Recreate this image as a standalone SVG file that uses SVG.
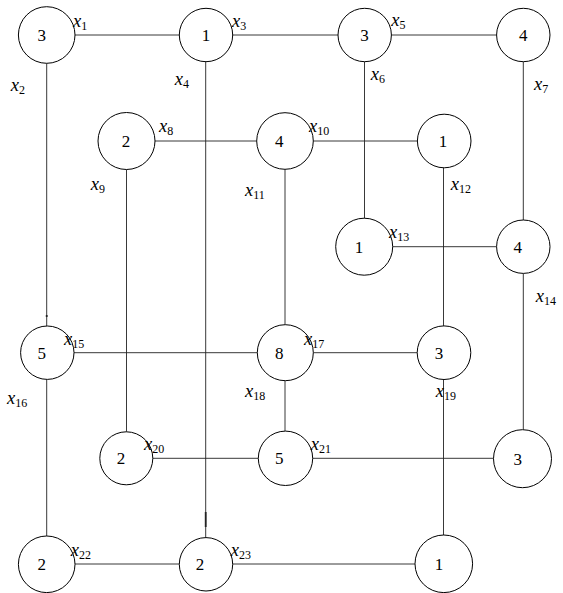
<svg xmlns="http://www.w3.org/2000/svg" width="563" height="593" viewBox="0 0 563 593">
<style>
.n circle{fill:#fff;stroke:#000;stroke-width:1}
.n text{font-family:'Liberation Serif','DejaVu Serif','Times New Roman',serif;font-size:17px;text-anchor:middle;fill:#000}
.c line{stroke:#222;stroke-width:0.9}
.l{font-family:'Liberation Serif','DejaVu Serif','Times New Roman',serif;font-size:18.5px;font-style:italic;fill:#000}
.l tspan{font-style:normal;font-size:12px}
</style>
<rect width="563" height="593" fill="#fff"/>
<g id="connectors" class="c">
<line x1="75" y1="35" x2="179.3" y2="35"/>
<line x1="232.7" y1="35" x2="338" y2="35"/>
<line x1="391.4" y1="35" x2="496.6" y2="35"/>
<line x1="46.7" y1="63.3" x2="46.7" y2="326"/>
<line x1="205.7" y1="61.7" x2="205.7" y2="537.6"/>
<line x1="364.5" y1="61.7" x2="364.5" y2="218.2"/>
<line x1="523.3" y1="61.7" x2="523.3" y2="220"/>
<line x1="155" y1="141" x2="256.7" y2="141"/>
<line x1="313.3" y1="141" x2="417.4" y2="141"/>
<line x1="126.5" y1="169.5" x2="126.5" y2="431.8"/>
<line x1="285" y1="169.3" x2="285" y2="324.7"/>
<line x1="443.5" y1="167.8" x2="443.5" y2="325.9"/>
<line x1="392.7" y1="246.7" x2="496.6" y2="246.7"/>
<line x1="523.3" y1="273.4" x2="523.3" y2="429.7"/>
<line x1="74" y1="352.7" x2="257.3" y2="352.7"/>
<line x1="313.3" y1="352.7" x2="417.2" y2="352.7"/>
<line x1="46.7" y1="379.4" x2="46.7" y2="536"/>
<line x1="285" y1="380.7" x2="285" y2="431.1"/>
<line x1="443.5" y1="379.5" x2="443.5" y2="535"/>
<line x1="152.8" y1="458.3" x2="258.3" y2="458.3"/>
<line x1="312.7" y1="458.3" x2="493.5" y2="458.3"/>
<line x1="75" y1="564" x2="179.3" y2="564"/>
<line x1="232.7" y1="564" x2="415" y2="564"/>
<line x1="205.7" y1="512" x2="205.7" y2="527" style="stroke-width:1.8"/>
<line x1="46.7" y1="315" x2="46.7" y2="317" style="stroke-width:1.8"/>
</g>
<g id="n1" class="n"><circle cx="46.7" cy="35" r="28.3"/><text x="41.7" y="41">3</text></g>
<g id="n2" class="n"><circle cx="206" cy="35" r="26.7"/><text x="206" y="41">1</text></g>
<g id="n3" class="n"><circle cx="364.7" cy="35" r="26.7"/><text x="364.5" y="41">3</text></g>
<g id="n4" class="n"><circle cx="523.3" cy="35" r="26.7"/><text x="523.3" y="41">4</text></g>
<g id="n5" class="n"><circle cx="126.5" cy="141" r="28.5"/><text x="126" y="147">2</text></g>
<g id="n6" class="n"><circle cx="285" cy="141" r="28.3"/><text x="279.3" y="147">4</text></g>
<g id="n7" class="n"><circle cx="444.2" cy="141" r="26.8"/><text x="443" y="147">1</text></g>
<g id="n8" class="n"><circle cx="364.2" cy="246.7" r="28.5"/><text x="359" y="252.7">1</text></g>
<g id="n9" class="n"><circle cx="523.3" cy="246.7" r="26.7"/><text x="517.7" y="252.7">4</text></g>
<g id="n10" class="n"><circle cx="47.3" cy="352.7" r="26.7"/><text x="41.7" y="358.7">5</text></g>
<g id="n11" class="n"><circle cx="285.3" cy="352.7" r="28"/><text x="279.3" y="358.7">8</text></g>
<g id="n12" class="n"><circle cx="444" cy="352.7" r="26.8"/><text x="439" y="358.7">3</text></g>
<g id="n13" class="n"><circle cx="126.3" cy="458.3" r="26.5"/><text x="121" y="464.3">2</text></g>
<g id="n14" class="n"><circle cx="285.5" cy="458.3" r="27.2"/><text x="279.3" y="464.3">5</text></g>
<g id="n15" class="n"><circle cx="522.5" cy="458.7" r="29"/><text x="517.7" y="464.7">3</text></g>
<g id="n16" class="n"><circle cx="46.7" cy="564.3" r="28.3"/><text x="41.7" y="570.3">2</text></g>
<g id="n17" class="n"><circle cx="206" cy="564.3" r="26.7"/><text x="200" y="570.3">2</text></g>
<g id="n18" class="n"><circle cx="443.8" cy="563.8" r="28.8"/><text x="439" y="569.8">1</text></g>
<g id="labels">
<text class="l" x="73" y="26.7">x<tspan dy="3">1</tspan></text>
<text class="l" x="10.7" y="90.7">x<tspan dy="3">2</tspan></text>
<text class="l" x="232" y="27">x<tspan dy="3">3</tspan></text>
<text class="l" x="174.7" y="85">x<tspan dy="3">4</tspan></text>
<text class="l" x="391.3" y="26">x<tspan dy="3">5</tspan></text>
<text class="l" x="370.7" y="80">x<tspan dy="3">6</tspan></text>
<text class="l" x="534" y="90">x<tspan dy="3">7</tspan></text>
<text class="l" x="159" y="131.7">x<tspan dy="3">8</tspan></text>
<text class="l" x="90.7" y="190">x<tspan dy="3">9</tspan></text>
<text class="l" x="309" y="131.7">x<tspan dy="3">10</tspan></text>
<text class="l" x="245" y="196">x<tspan dy="3">11</tspan></text>
<text class="l" x="450.7" y="190">x<tspan dy="3">12</tspan></text>
<text class="l" x="389" y="238.3">x<tspan dy="3">13</tspan></text>
<text class="l" x="535.7" y="301.7">x<tspan dy="3">14</tspan></text>
<text class="l" x="64" y="345">x<tspan dy="3">15</tspan></text>
<text class="l" x="7" y="404">x<tspan dy="3">16</tspan></text>
<text class="l" x="304" y="345">x<tspan dy="3">17</tspan></text>
<text class="l" x="245" y="397">x<tspan dy="3">18</tspan></text>
<text class="l" x="435.7" y="396.7">x<tspan dy="3">19</tspan></text>
<text class="l" x="144" y="450">x<tspan dy="3">20</tspan></text>
<text class="l" x="310.7" y="450">x<tspan dy="3">21</tspan></text>
<text class="l" x="70.7" y="556">x<tspan dy="3">22</tspan></text>
<text class="l" x="230.7" y="556">x<tspan dy="3">23</tspan></text>
</g>
</svg>
